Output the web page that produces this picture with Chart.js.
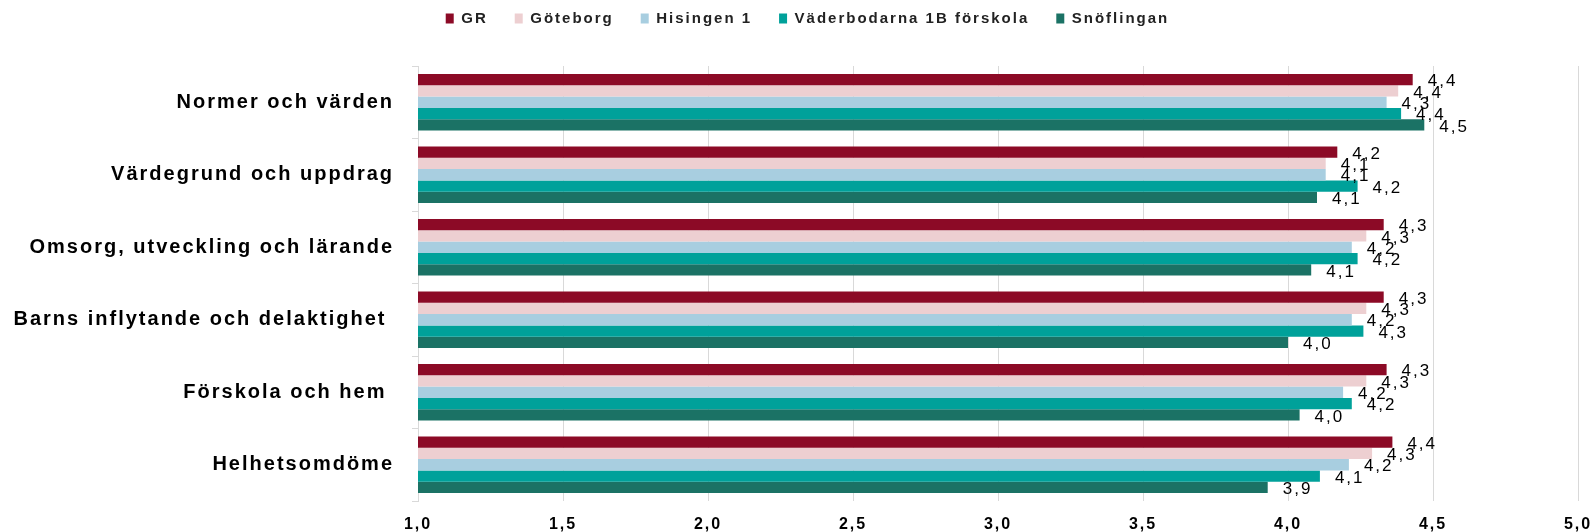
<!DOCTYPE html>
<html>
<head>
<meta charset="utf-8">
<script src="https://cdn.jsdelivr.net/npm/chart.js@4"></script>
<style>
  html, body { margin: 0; padding: 0; background: #fff; }
  #wrap { width: 1595px; height: 532px; }
</style>
</head>
<body>
<div id="wrap"><canvas id="chart"></canvas></div>
<script>
var categories = ['Normer och värden', 'Värdegrund och uppdrag', 'Omsorg, utveckling och lärande',
  'Barns inflytande och delaktighet ', 'Förskola och hem ', 'Helhetsomdöme'];
var seriesNames = ['GR', 'Göteborg', 'Hisingen 1', 'Väderbodarna 1B förskola', 'Snöflingan'];
var gr           = [4.43, 4.17, 4.33, 4.33, 4.34, 4.36];
var goteborg     = [4.38, 4.13, 4.27, 4.27, 4.27, 4.29];
var hisingen     = [4.34, 4.13, 4.22, 4.22, 4.19, 4.21];
var vaderbodarna = [4.39, 4.24, 4.24, 4.26, 4.22, 4.11];
var snoflingan   = [4.47, 4.10, 4.08, 4.00, 4.04, 3.93];
var colors = ['#8C0A26', '#EDCFD1', '#A8CEE0', '#00A19A', '#1B7265'];

var FONT = "'Liberation Sans', Arial, sans-serif";

function fmt(v) {
  return Number(v).toFixed(1).replace('.', ',');
}

// wide letter spacing like the original
var spacing = {
  id: 'spacing',
  beforeUpdate: function (c) { c.ctx.letterSpacing = '2px'; },
  beforeDraw: function (c) { c.ctx.letterSpacing = '2px'; }
};

// legend sits high, with a gap before the plot, a bit right of centre
var legendFit = {
  id: 'legendFit',
  beforeLayout: function (chart) {
    var lg = chart.legend;
    if (lg && !lg._patched) {
      var fit = lg.fit;
      lg.fit = function () { fit.call(this); this.height = 82; };
      lg._patched = true;
    }
  },
  afterLayout: function (chart) {
    if (chart.legend) chart.legend.left += 24;
  }
};

// value labels at the end of each bar
var valueLabels = {
  id: 'valueLabels',
  afterDatasetsDraw: function (chart) {
    var ctx = chart.ctx;
    ctx.save();
    ctx.font = '17px ' + FONT;
    ctx.fillStyle = '#000';
    ctx.textAlign = 'left';
    ctx.textBaseline = 'middle';
    chart.data.datasets.forEach(function (ds, i) {
      chart.getDatasetMeta(i).data.forEach(function (bar, j) {
        ctx.fillText(fmt(ds.data[j]), bar.x + 15, bar.y + 2);
      });
    });
    ctx.restore();
  }
};

var allData = [gr, goteborg, hisingen, vaderbodarna, snoflingan];

new Chart(document.getElementById('chart'), {
  type: 'bar',
  data: {
    labels: categories,
    datasets: allData.map(function (d, i) {
      return {
        label: seriesNames[i],
        data: d,
        backgroundColor: colors[i],
        borderWidth: 0,
        barPercentage: 1.0,
        categoryPercentage: 0.78
      };
    })
  },
  options: {
    indexAxis: 'y',
    responsive: true,
    maintainAspectRatio: false,
    animation: false,
    layout: { padding: { top: -16, right: 4, left: 0, bottom: 0 } },
    plugins: {
      legend: {
        position: 'top',
        labels: {
          boxWidth: 8,
          boxHeight: 10,
          padding: 27,
          color: '#222',
          font: { family: FONT, size: 15, weight: 'bold' }
        }
      },
      tooltip: { enabled: false }
    },
    scales: {
      x: {
        min: 1,
        max: 5,
        ticks: {
          stepSize: 0.5,
          padding: 14,
          color: '#000',
          font: { family: FONT, size: 16, weight: 'bold' },
          callback: function (v) { return fmt(v); }
        },
        grid: { color: '#d9d9d9', drawTicks: false },
        border: { display: false },
        afterFit: function (s) { s.height = 31; s.paddingRight = 17; }
      },
      y: {
        ticks: {
          padding: 18,
          color: '#000',
          font: { family: FONT, size: 20, weight: 'bold' }
        },
        grid: { display: true, drawOnChartArea: false, color: '#d9d9d9', tickLength: 6, offset: true },
        border: { display: true, color: '#d9d9d9' },
        afterFit: function (s) { s.width = 418; }
      }
    }
  },
  plugins: [spacing, legendFit, valueLabels]
});
</script>
</body>
</html>
